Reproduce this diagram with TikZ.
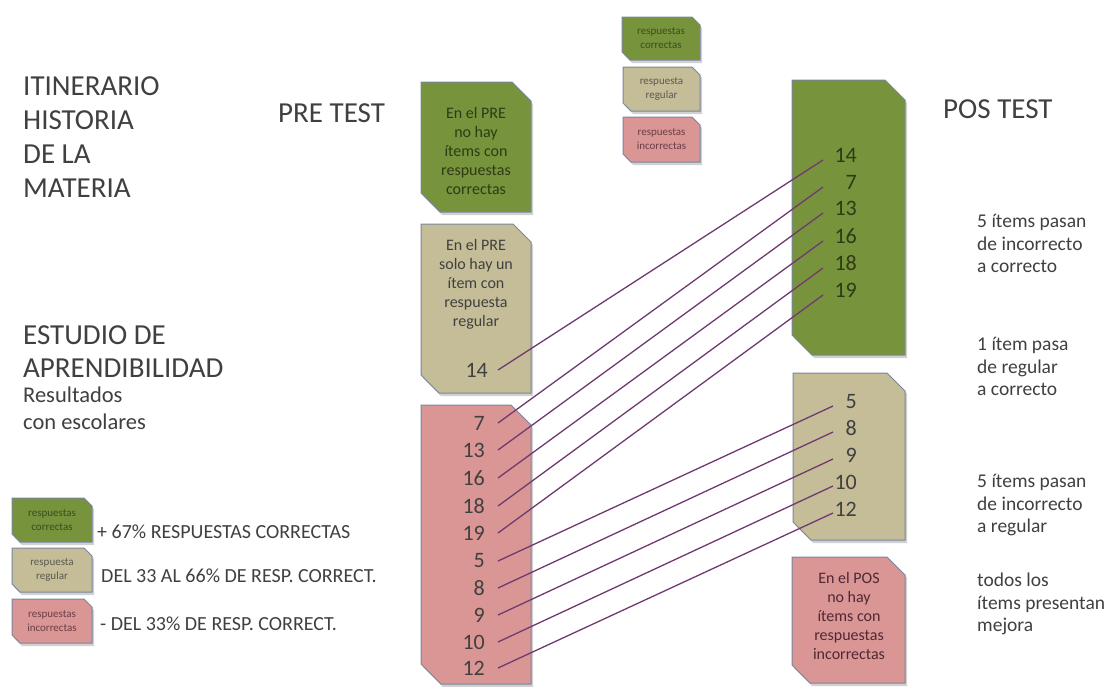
\documentclass[tikz,border=0pt]{standalone}
\usepackage{fontspec}
\setmainfont{Carlito}
\usetikzlibrary{fit}

\definecolor{boxgreen}{RGB}{119,147,60}
\definecolor{boxtan}{RGB}{196,189,151}
\definecolor{boxpink}{RGB}{217,150,148}
\definecolor{boxedge}{RGB}{122,134,158}
\definecolor{inkgray}{RGB}{64,64,64}
\definecolor{inkgreen}{RGB}{46,59,22}
\definecolor{inkpink}{RGB}{80,40,52}
\definecolor{linkc}{RGB}{112,58,112}

% snipped-corner box: name, x1, y1, x2, y2, snip, fill colour
\newcommand{\cutbox}[7]{%
  \fill[boxshade] (#2+2,#3+3) -- (#4-#6+2,#3+3) -- (#4+2,#3+#6+3) -- (#4+2,#5+3)
        -- (#2+#6+2,#5+3) -- (#2+2,#5-#6+3) -- cycle;
  \filldraw[boxline, fill=#7] (#2,#3) -- (#4-#6,#3) -- (#4,#3+#6) -- (#4,#5)
        -- (#2+#6,#5) -- (#2,#5-#6) -- cycle;
  \node[fit={(#2,#3) (#4,#5)}, inner sep=0pt] (#1) {};
}

\begin{document}
\begin{tikzpicture}[x=1pt, y=-1pt,
  boxline/.style={draw=boxedge, line width=1pt},
  boxshade/.style={fill=black, opacity=0.18},
  link/.style={draw=linkc, line width=1.3pt},
  num/.style={font=\fontsize{22}{26}\selectfont, inner sep=0pt, anchor=east},
  title/.style={font=\fontsize{29}{34}\selectfont, text=inkgray, inner sep=0pt, anchor=north west, align=left},
  sub/.style={font=\fontsize{22.5}{27}\selectfont, text=inkgray, inner sep=0pt, anchor=north west, align=left},
  note/.style={font=\fontsize{19.5}{22.5}\selectfont, text=inkgray, inner sep=0pt, anchor=north west, align=left},
  keytext/.style={font=\fontsize{20}{24}\selectfont, text=inkgray, inner sep=0pt, anchor=west},
  boxtext/.style={font=\fontsize{16}{19}\selectfont, inner sep=0pt, anchor=north, align=center},
  tiny/.style={font=\fontsize{11}{14}\selectfont, inner sep=0pt, align=center}
]
\useasboundingbox (0,0) rectangle (1107,686);
\fill[white] (0,0) rectangle (1107,686);

% headings
\node[title] (itin) at (23,76) {ITINERARIO\\HISTORIA\\DE LA\\MATERIA};
\node[title] (pre) at (278,103) {PRE TEST};
\node[title] (pos) at (943,99) {POS TEST};
\node[title, font=\fontsize{29}{33.5}\selectfont] (estudio) at (23,325) {ESTUDIO DE\\APRENDIBILIDAD};
\node[sub] (result) at (23,387) {Resultados\\con escolares};

% legend, top
\cutbox{ktopg}{622}{17}{700}{60}{8}{boxgreen}
\node[tiny, text=inkgreen!80!boxgreen] (ktopgt) at (ktopg) {respuestas\\correctas};
\cutbox{ktopt}{623}{67}{700}{111}{8}{boxtan}
\node[tiny, text=inkgray!80!boxtan] (ktoptt) at (ktopt) {respuesta\\regular};
\cutbox{ktopp}{623}{117}{700}{162}{8}{boxpink}
\node[tiny, text=inkpink!80!boxpink] (ktoppt) at (ktopp) {respuestas\\incorrectas};

% legend, bottom left
\cutbox{kg}{12}{498}{92}{542}{8}{boxgreen}
\node[tiny, text=inkgreen!80!boxgreen] (kgt) at (kg) {respuestas\\correctas};
\cutbox{kt}{12}{548}{92}{592}{8}{boxtan}
\node[tiny, text=inkgray!80!boxtan] (ktt) at (kt) {respuesta\\regular};
\cutbox{kp}{12}{599}{92}{643}{8}{boxpink}
\node[tiny, text=inkpink!80!boxpink] (kpt) at (kp) {respuestas\\incorrectas};
\node[keytext] (kgl) at (97,532) {+ 67\% RESPUESTAS CORRECTAS};
\node[keytext] (ktl) at (101,576) {DEL 33 AL 66\% DE RESP. CORRECT.};
\node[keytext] (kpl) at (100,624) {- DEL 33\% DE RESP. CORRECT.};

% pre test boxes
\cutbox{preg}{421}{82}{531}{212}{19}{boxgreen}
\node[boxtext, text=inkgreen] (pregt) at (476,107) {En el PRE\\no hay\\ítems con\\respuestas\\correctas};
\cutbox{pret}{421}{224}{531}{393}{18}{boxtan}
\node[boxtext, text=inkgray] (prett) at (476,239) {En el PRE\\solo hay un\\ítem con\\respuesta\\regular};
\cutbox{prep}{421}{405}{531}{684}{20}{boxpink}

% post test boxes
\cutbox{posg}{792}{80}{905}{355}{20}{boxgreen}
\cutbox{post}{793}{373}{905}{540}{18}{boxtan}
\cutbox{posp}{792}{557}{905}{683}{18}{boxpink}
\node[boxtext, text=inkpink] (pospt) at (849,572) {En el POS\\no hay\\ítems con\\respuestas\\incorrectas};

% item numbers, pre test
\node[num, text=inkgray] (a14) at (488,370) {14};
\node[num, text=inkgray] (a7)  at (485,423) {7};
\node[num, text=inkgray] (a13) at (485,450) {13};
\node[num, text=inkgray] (a16) at (485,478) {16};
\node[num, text=inkgray] (a18) at (485,506) {18};
\node[num, text=inkgray] (a19) at (485,533) {19};
\node[num, text=inkgray] (a5)  at (485,561) {5};
\node[num, text=inkgray] (a8)  at (485,588) {8};
\node[num, text=inkgray] (a9)  at (485,615) {9};
\node[num, text=inkgray] (a10) at (485,642) {10};
\node[num, text=inkgray] (a12) at (485,668) {12};

% item numbers, post test
\node[num, text=inkgreen] (b14) at (857,155) {14};
\node[num, text=inkgreen] (b7)  at (857,182) {7};
\node[num, text=inkgreen] (b13) at (857,208) {13};
\node[num, text=inkgreen] (b16) at (857,236) {16};
\node[num, text=inkgreen] (b18) at (857,263) {18};
\node[num, text=inkgreen] (b19) at (857,290) {19};
\node[num, text=inkgray] (b5)  at (857,402) {5};
\node[num, text=inkgray] (b8)  at (857,428) {8};
\node[num, text=inkgray] (b9)  at (857,455) {9};
\node[num, text=inkgray] (b10) at (857,482) {10};
\node[num, text=inkgray] (b12) at (857,509) {12};

% pre -> post links
\draw[link] ([xshift=10pt]a14.east) -- ([xshift=-34pt,yshift=-5pt]b14.east);
\foreach \n in {7,13,16,18,19}
  \draw[link] ([xshift=13pt]a\n.east) -- ([xshift=-34pt,yshift=-5pt]b\n.east);
\foreach \n in {5,8,9,10,12}
  \draw[link] ([xshift=13pt]a\n.east) -- ([xshift=-24pt,yshift=-4pt]b\n.east);

% notes on the right
\node[note] (n1) at (977,214) {5 ítems pasan\\de incorrecto\\a correcto};
\node[note] (n2) at (977,337) {1 ítem pasa\\de regular\\a correcto};
\node[note] (n3) at (977,474) {5 ítems pasan\\de incorrecto\\a regular};
\node[note] (n4) at (977,573) {todos los\\ítems presentan\\mejora};
\end{tikzpicture}
\end{document}
